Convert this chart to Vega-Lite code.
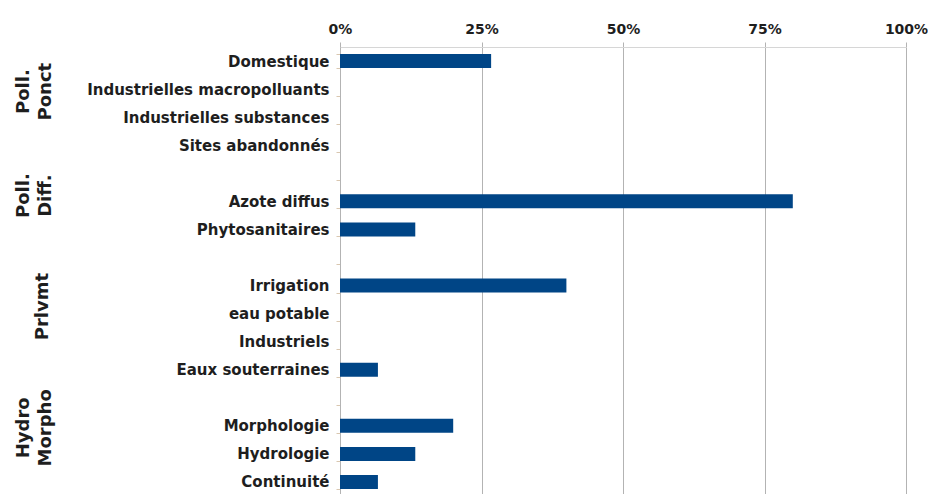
{
  "$schema": "https://vega.github.io/schema/vega-lite/v6.json",
  "autosize": "none",
  "padding": {"left": 340, "top": 47, "right": 22, "bottom": 0},
  "width": 566,
  "height": 449,
  "background": "white",
  "config": {"view": {"stroke": null}, "font": "DejaVu Sans"},
  "datasets": {
    "items": [
      {"item": "Domestique", "share": 0.267},
      {"item": "Industrielles macropolluants", "share": 0},
      {"item": "Industrielles substances", "share": 0},
      {"item": "Sites abandonnés", "share": 0},
      {"item": "Azote diffus", "share": 0.8},
      {"item": "Phytosanitaires", "share": 0.133},
      {"item": "Irrigation", "share": 0.4},
      {"item": "eau potable", "share": 0},
      {"item": "Industriels", "share": 0},
      {"item": "Eaux souterraines", "share": 0.067},
      {"item": "Morphologie", "share": 0.2},
      {"item": "Hydrologie", "share": 0.133},
      {"item": "Continuité", "share": 0.067}
    ],
    "groups": [
      {"group": "Poll.|Ponct", "anchor": "Industrielles macropolluants"},
      {"group": "Poll.|Diff.", "anchor": "Azote diffus"},
      {"group": "Prlvmt", "anchor": "eau potable"},
      {"group": "Hydro|Morpho", "anchor": "Morphologie"}
    ]
  },
  "layer": [
    {
      "data": {"name": "items"},
      "mark": {"type": "bar", "color": "#004586"},
      "encoding": {
        "y": {
          "field": "item",
          "type": "nominal",
          "sort": null,
          "title": null,
          "scale": {
            "domain": ["Domestique", "Industrielles macropolluants", "Industrielles substances", "Sites abandonnés", " ", "Azote diffus", "Phytosanitaires", "  ", "Irrigation", "eau potable", "Industriels", "Eaux souterraines", "   ", "Morphologie", "Hydrologie", "Continuité"],
            "paddingInner": 0.5,
            "paddingOuter": 0.25
          },
          "axis": {
            "orient": "left",
            "tickBand": "extent",
            "tickSize": 4,
            "tickColor": "#d9c7b0",
            "domainColor": "#b3b3b3",
            "labelFont": "DejaVu Sans",
            "labelFontWeight": "bold",
            "labelFontSize": 15,
            "labelColor": "#1e1e1e",
            "labelPadding": 7,
            "labelLimit": 400
          }
        },
        "x": {
          "field": "share",
          "type": "quantitative",
          "title": null,
          "scale": {"domain": [0, 1]},
          "axis": {
            "orient": "top",
            "format": "%",
            "values": [0, 0.25, 0.5, 0.75, 1],
            "labelFlush": false,
            "grid": true,
            "gridColor": "#b3b3b3",
            "tickColor": "#b3b3b3",
            "tickSize": 5,
            "domainColor": "#d6d6d6",
            "labelFont": "DejaVu Sans",
            "labelFontWeight": "bold",
            "labelFontSize": 14,
            "labelColor": "#1e1e1e",
            "labelPadding": 6
          }
        }
      }
    },
    {
      "data": {"name": "groups"},
      "transform": [{"filter": "datum.group === 'Poll.|Ponct'"}],
      "mark": {"type": "text", "angle": 270, "lineBreak": "|", "lineHeight": 22, "fontSize": 18, "fontWeight": "bold", "font": "DejaVu Sans", "align": "center", "baseline": "middle", "color": "#1e1e1e"},
      "encoding": {
        "y": {"field": "anchor", "type": "nominal", "title": null, "bandPosition": 0.68},
        "x": {"datum": -0.558, "type": "quantitative", "scale": {"domain": [0, 1]}},
        "text": {"field": "group"}
      }
    },
    {
      "data": {"name": "groups"},
      "transform": [{"filter": "datum.group === 'Poll.|Diff.'"}],
      "mark": {"type": "text", "angle": 270, "lineBreak": "|", "lineHeight": 22, "fontSize": 18, "fontWeight": "bold", "font": "DejaVu Sans", "align": "center", "baseline": "middle", "color": "#1e1e1e"},
      "encoding": {
        "y": {"field": "anchor", "type": "nominal", "title": null, "bandPosition": 0.09},
        "x": {"datum": -0.558, "type": "quantitative", "scale": {"domain": [0, 1]}},
        "text": {"field": "group"}
      }
    },
    {
      "data": {"name": "groups"},
      "transform": [{"filter": "datum.group === 'Prlvmt'"}],
      "mark": {"type": "text", "angle": 270, "lineBreak": "|", "lineHeight": 22, "fontSize": 18, "fontWeight": "bold", "font": "DejaVu Sans", "align": "center", "baseline": "middle", "color": "#1e1e1e"},
      "encoding": {
        "y": {"field": "anchor", "type": "nominal", "title": null, "bandPosition": 0},
        "x": {"datum": -0.525, "type": "quantitative", "scale": {"domain": [0, 1]}},
        "text": {"field": "group"}
      }
    },
    {
      "data": {"name": "groups"},
      "transform": [{"filter": "datum.group === 'Hydro|Morpho'"}],
      "mark": {"type": "text", "angle": 270, "lineBreak": "|", "lineHeight": 22, "fontSize": 18, "fontWeight": "bold", "font": "DejaVu Sans", "align": "center", "baseline": "middle", "color": "#1e1e1e"},
      "encoding": {
        "y": {"field": "anchor", "type": "nominal", "title": null, "bandPosition": 0.64},
        "x": {"datum": -0.558, "type": "quantitative", "scale": {"domain": [0, 1]}},
        "text": {"field": "group"}
      }
    }
  ]
}
